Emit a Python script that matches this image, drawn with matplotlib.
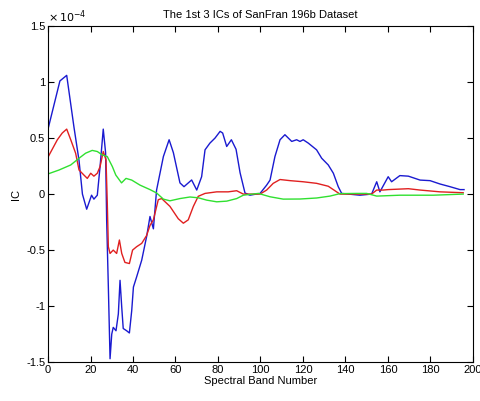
import matplotlib
matplotlib.use('Agg')
import matplotlib.pyplot as plt

# values, in units of 1e-4
blue_x = [0, 5.6, 8.8, 12.2, 14.6, 16.2, 18.2, 20.5, 21.6, 23.2, 24.5, 26, 27.1, 27.6,
          28.4, 29.2, 30, 30.7, 32, 33.1, 33.9, 34.7, 35.4, 37, 38.3, 39.4, 40.2, 41.7,
          44.1, 46.4, 48, 49.6, 51.1, 54.3, 57, 59, 62.1, 64, 67.6, 70, 72.3, 73.9, 76.2,
          78.6, 81, 82.2, 84.1, 86.3, 88.5, 90.4, 92.7, 95, 99.8, 102.9, 104.5, 106.8,
          109.2, 111.5, 114.7, 117, 118.6, 120.1, 122.5, 126.4, 128.8, 131.9, 134.3,
          136.6, 138.2, 146.8, 152.3, 154.7, 156.2, 160.1, 161.7, 165.6, 169.6, 175.1,
          179.8, 184.5, 189.2, 193.9, 195.8]
blue_y = [0.58, 1.01, 1.06, 0.60, 0.30, 0.0, -0.135, -0.01, -0.045, -0.01, 0.245, 0.58,
          0.37, -0.23, -0.83, -1.47, -1.25, -1.19, -1.22, -1.07, -0.77, -1.01, -1.2,
          -1.22, -1.24, -1.04, -0.83, -0.74, -0.59, -0.38, -0.2, -0.31, 0.036, 0.335,
          0.485, 0.37, 0.1, 0.066, 0.126, 0.036, 0.155, 0.395, 0.455, 0.50, 0.56, 0.545,
          0.425, 0.485, 0.40, 0.19, 0.01, -0.01, 0.006, 0.08, 0.125, 0.335, 0.485, 0.53,
          0.47, 0.485, 0.47, 0.485, 0.455, 0.395, 0.32, 0.26, 0.186, 0.066, 0.006, -0.01,
          0.0, 0.11, 0.02, 0.155, 0.11, 0.165, 0.16, 0.125, 0.12, 0.09, 0.066, 0.04, 0.04]

red_x = [0, 4.4, 6.7, 8.8, 10.7, 13, 14.6, 16.9, 18.5, 20.1, 21.6, 23.2, 24.5, 26, 27.3,
         27.9, 28.4, 29.2, 30.7, 32.3, 33.6, 34.7, 36.2, 38.3, 39.8, 41.7, 44.1, 46.4,
         48, 49.6, 51.9, 53.5, 57.4, 61.3, 63.7, 66, 68.4, 70.7, 73.9, 79.4, 84.8, 88.8,
         91.9, 99.8, 102.9, 106, 109.2, 113.9, 120.1, 126.4, 131.9, 137.4, 152.3, 154.7,
         157.8, 160.1, 169.6, 175.1, 184.5, 195.4]
red_y = [0.33, 0.485, 0.545, 0.58, 0.485, 0.365, 0.215, 0.17, 0.14, 0.186, 0.16, 0.186,
         0.245, 0.38, 0.305, -0.08, -0.47, -0.53, -0.5, -0.53, -0.41, -0.53, -0.61, -0.62,
         -0.5, -0.47, -0.44, -0.37, -0.28, -0.23, -0.05, -0.04, -0.11, -0.22, -0.26,
         -0.23, -0.11, -0.02, 0.006, 0.02, 0.02, 0.03, 0.0, 0.0, 0.036, 0.096, 0.13, 0.12,
         0.11, 0.096, 0.07, 0.0, 0.0, 0.036, 0.036, 0.04, 0.048, 0.036, 0.02, 0.012]

green_x = [0, 5.2, 10.7, 14.6, 17.7, 20.8, 23.2, 25.5, 27.9, 30.3, 31.9, 34.6, 36.7, 39.4,
           43.3, 48, 51.1, 54.3, 57.4, 62.1, 66.8, 70.7, 74.7, 79.4, 84.1, 88.8, 91.9, 99,
           104.5, 110.7, 118.6, 126.4, 132.7, 137.4, 145.3, 150, 154.7, 165.6, 181.3,
           195.4]
green_y = [0.18, 0.215, 0.26, 0.32, 0.365, 0.39, 0.38, 0.35, 0.335, 0.245, 0.17, 0.1,
           0.14, 0.125, 0.08, 0.04, 0.01, -0.045, -0.06, -0.04, -0.026, -0.033, -0.054,
           -0.069, -0.063, -0.04, -0.01, 0.006, -0.024, -0.045, -0.044, -0.035, -0.018,
           0.004, 0.006, 0.006, -0.018, -0.01, -0.01, 0.0]

x_ticks = list(range(0, 201, 20))
y_ticks = [-1.5, -1, -0.5, 0, 0.5, 1, 1.5]
y_labels = ['-1.5', '-1', '-0.5', '0', '0.5', '1', '1.5']

plt.rcParams['font.family'] = ['Liberation Sans', 'DejaVu Sans']
fig = plt.figure(figsize=(4.81, 4.01), dpi=100)
ax = fig.add_axes([0.0998, 0.097, 0.8835, 0.838])

ax.plot(blue_x, blue_y, color='#1a1ad0', lw=1)
ax.plot(red_x, red_y, color='#e02020', lw=1)
ax.plot(green_x, green_y, color='#30e030', lw=1)

ax.set_xlim(0, 200)
ax.set_ylim(-1.5, 1.5)
ax.set_xticks(x_ticks)
ax.set_yticks(y_ticks)
ax.set_yticklabels(y_labels)
ax.tick_params(direction='in', top=True, right=True, labelsize=8, length=4, pad=2)
ax.set_xlabel('Spectral Band Number', fontsize=8, labelpad=1)
ax.set_ylabel('IC', fontsize=8, labelpad=4)
ax.set_title('The 1st 3 ICs of SanFran 196b Dataset', fontsize=8, pad=6)
ax.text(0.0, 1.004, r'$\times\,10^{-4}$', transform=ax.transAxes, fontsize=8,
        ha='left', va='bottom')

fig.savefig('out.png', dpi=100)
